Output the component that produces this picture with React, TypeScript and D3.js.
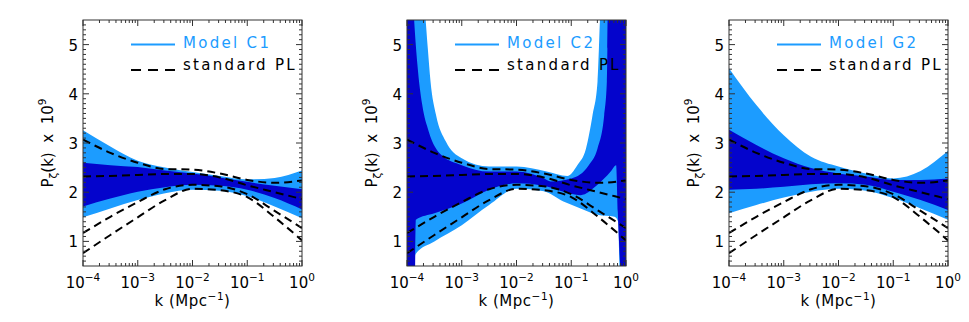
import React from 'react';
import * as d3 from 'd3';

type Pt = [number, number];

const WIDTH = 969;
const HEIGHT = 322;
const PANEL_LEFT = [83, 407, 729];
const PLOT_W = 219;
const PLOT_TOP = 20;
const PLOT_BOTTOM = 266;

const LIGHT = '#1C9CFF';
const DARK = '#0404CC';
const FONT = 'DejaVu Sans, Verdana, sans-serif';

// k grid used by the smooth curves
const K_GRID = [1e-4, 3.16e-4, 1e-3, 3.16e-3, 1e-2, 3.16e-2, 1e-1, 3.16e-1, 1];

// standard power law: 4 dashed curves, same in every panel
const PL_1 = [3.07, 2.8, 2.6, 2.47, 2.46, 2.38, 2.25, 2.19, 2.24];
const PL_2 = [2.32, 2.33, 2.35, 2.37, 2.37, 2.3, 2.14, 2.0, 1.86];
const PL_3 = [1.17, 1.5, 1.8, 2.06, 2.15, 2.12, 1.96, 1.62, 1.27];
const PL_4 = [0.76, 1.13, 1.49, 1.84, 2.07, 2.04, 1.9, 1.49, 1.02];

// Model C1 bands (95% light, 68% dark)
const C1_HI95 = [3.26, 2.93, 2.64, 2.5, 2.41, 2.33, 2.26, 2.29, 2.44];
const C1_HI68 = [2.6, 2.55, 2.51, 2.44, 2.38, 2.3, 2.21, 2.13, 2.06];
const C1_LO68 = [1.71, 1.87, 2.01, 2.1, 2.15, 2.13, 2.05, 1.88, 1.65];
const C1_LO95 = [1.49, 1.67, 1.84, 1.98, 2.05, 2.03, 1.92, 1.71, 1.47];

// Model G2 bands
const G2_HI95 = [4.52, 3.77, 3.16, 2.72, 2.52, 2.38, 2.28, 2.43, 2.84];
const G2_HI68 = [3.27, 2.96, 2.69, 2.49, 2.38, 2.32, 2.25, 2.25, 2.28];
const G2_LO68 = [2.05, 2.07, 2.11, 2.16, 2.18, 2.15, 2.01, 1.84, 1.64];
const G2_LO95 = [1.57, 1.74, 1.89, 2.01, 2.07, 2.03, 1.88, 1.67, 1.44];

// Model C2 bands, read as [k, P] pairs (they run off the plot)
const C2_HI95: Pt[] = [
  [1e-4, 9], [1.6e-4, 7], [2.19e-4, 5.5], [2.4e-4, 4.92], [2.69e-4, 4.25], [3.39e-4, 3.57],
  [5.13e-4, 3.03], [1e-3, 2.69], [3.16e-3, 2.52], [1e-2, 2.52], [3.55e-2, 2.42], [8.5e-2, 2.33],
  [0.129, 2.55], [0.186, 2.89], [0.245, 3.57], [0.302, 4.25], [0.32, 4.92], [0.335, 5.5],
  [0.5, 7], [1, 9],
];
const C2_HI68: Pt[] = [
  [1e-4, 9], [1.35e-4, 5.5], [1.55e-4, 4.59], [1.9e-4, 3.77], [2.5e-4, 3.23], [4.2e-4, 2.76],
  [1e-3, 2.55], [3.16e-3, 2.42], [1e-2, 2.42], [3.16e-2, 2.28], [0.042, 2.22], [0.1, 2.28],
  [0.209, 2.55], [0.302, 2.89], [0.4, 3.57], [0.447, 4.25], [0.457, 4.92], [0.462, 5.5], [1, 9],
];
const C2_LO68: Pt[] = [
  [1e-4, 0], [1.38e-4, 0], [1.45e-4, 1.44], [3.16e-4, 1.57], [1e-3, 1.77], [3.16e-3, 2.05],
  [1e-2, 2.18], [3.16e-2, 2.13], [7.2e-2, 2.01], [0.148, 1.94], [0.302, 2.15], [0.525, 2.42],
  [0.66, 2.55], [0.708, 1.6], [0.794, 0.4], [0.87, 0], [1, 0],
];
const C2_LO95: Pt[] = [
  [1e-4, 0], [1.17e-4, 0.3], [1.45e-4, 0.75], [3.16e-4, 1.0], [1e-3, 1.33], [3.16e-3, 1.74],
  [1e-2, 2.07], [3.16e-2, 2.02], [7.2e-2, 1.81], [0.148, 1.67], [0.302, 1.54], [0.617, 1.5],
  [0.72, 1.4], [0.76, 0.5], [0.8, 0], [1, 0],
];

const MODEL_NAMES = ['Model C1', 'Model C2', 'Model G2'];
const X_TICKS = [1e-4, 1e-3, 1e-2, 1e-1, 1];
const X_TICK_EXP = ['\u22124', '\u22123', '\u22122', '\u22121', '0'];
const Y_TICKS = [1, 2, 3, 4, 5];

const onGrid = (vals: number[]): Pt[] => K_GRID.map((k, i) => [k, vals[i]]);

interface Bands { hi95: Pt[]; hi68: Pt[]; lo68: Pt[]; lo95: Pt[] }

const PANEL_BANDS: Bands[] = [
  { hi95: onGrid(C1_HI95), hi68: onGrid(C1_HI68), lo68: onGrid(C1_LO68), lo95: onGrid(C1_LO95) },
  { hi95: C2_HI95, hi68: C2_HI68, lo68: C2_LO68, lo95: C2_LO95 },
  { hi95: onGrid(G2_HI95), hi68: onGrid(G2_HI68), lo68: onGrid(G2_LO68), lo95: onGrid(G2_LO95) },
];
const PL_CURVES = [PL_1, PL_2, PL_3, PL_4].map(onGrid);

function Panel({ idx }: { idx: number }) {
  const x0 = PANEL_LEFT[idx];
  const bands = PANEL_BANDS[idx];
  const id = 'p' + idx;
  const x = d3.scaleLog().domain([1e-4, 1]).range([x0, x0 + PLOT_W]);
  const y = d3.scaleLinear().domain([0.5, 5.5]).range([PLOT_BOTTOM, PLOT_TOP]);

  // area from a curve down to below the plot, and from a curve up to above it;
  // the band is one clipped by the other
  const below = d3.area<Pt>().x(d => x(d[0])).y0(PLOT_BOTTOM + 30).y1(d => y(d[1])).curve(d3.curveMonotoneX);
  const above = d3.area<Pt>().x(d => x(d[0])).y0(PLOT_TOP - 30).y1(d => y(d[1])).curve(d3.curveMonotoneX);
  const line = d3.line<Pt>().x(d => x(d[0])).y(d => y(d[1])).curve(d3.curveMonotoneX);

  const xt = x.ticks();
  const isDecade = (t: number) => Math.abs(Math.log10(t) - Math.round(Math.log10(t))) < 1e-6;
  const yt = y.ticks(50).filter(t => t > 0.55 && t < 5.45);
  const isInt = (t: number) => Math.abs(t - Math.round(t)) < 1e-6;
  const cx = x0 + PLOT_W / 2;
  const axisCol = '#333';

  return (
    <g fontFamily={FONT}>
      <defs>
        <clipPath id={id + '-plot'}>
          <rect x={x0} y={PLOT_TOP} width={PLOT_W} height={PLOT_BOTTOM - PLOT_TOP} />
        </clipPath>
        <clipPath id={id + '-lo95'}><path d={above(bands.lo95) || ''} /></clipPath>
        <clipPath id={id + '-lo68'}><path d={above(bands.lo68) || ''} /></clipPath>
      </defs>
      <g clipPath={`url(#${id}-plot)`}>
        <path d={below(bands.hi95) || ''} fill={LIGHT} clipPath={`url(#${id}-lo95)`} />
        <path d={below(bands.hi68) || ''} fill={DARK} clipPath={`url(#${id}-lo68)`} />
        {PL_CURVES.map((c, i) => (
          <path key={i} d={line(c) || ''} fill="none" stroke="#000" strokeWidth={2} strokeDasharray="8,5" />
        ))}
      </g>
      <rect x={x0} y={PLOT_TOP} width={PLOT_W} height={PLOT_BOTTOM - PLOT_TOP} fill="none" stroke={axisCol} strokeWidth={1} />
      {xt.map((t, i) => {
        const len = isDecade(t) ? 6 : 3;
        return (
          <g key={'xt' + i} stroke={axisCol}>
            <line x1={x(t)} x2={x(t)} y1={PLOT_BOTTOM} y2={PLOT_BOTTOM - len} />
            <line x1={x(t)} x2={x(t)} y1={PLOT_TOP} y2={PLOT_TOP + len} />
          </g>
        );
      })}
      {yt.map((t, i) => {
        const len = isInt(t) ? 6 : 3;
        return (
          <g key={'yt' + i} stroke={axisCol}>
            <line x1={x0} x2={x0 + len} y1={y(t)} y2={y(t)} />
            <line x1={x0 + PLOT_W} x2={x0 + PLOT_W - len} y1={y(t)} y2={y(t)} />
          </g>
        );
      })}
      {X_TICKS.map((t, i) => (
        <text key={'xl' + i} x={x(t)} y={288} textAnchor="middle" fontSize={15}>
          10<tspan fontSize={10.5} dy={-7}>{X_TICK_EXP[i]}</tspan>
        </text>
      ))}
      {Y_TICKS.map((t, i) => (
        <text key={'yl' + i} x={x0 - 5} y={y(t) + 6} textAnchor="end" fontSize={15}>{t}</text>
      ))}
      <text x={cx} y={306} textAnchor="middle" fontSize={15} letterSpacing={0.5}>
        k (Mpc<tspan fontSize={10.5} dy={-6}>{'\u22121'}</tspan><tspan dy={6}>)</tspan>
      </text>
      <text transform={`translate(${x0 - 30},143) rotate(-90)`} textAnchor="middle" fontSize={15}
        style={{ whiteSpace: 'pre' }}>
        P<tspan fontSize={10.5} dy={4}>{'\u03B6'}</tspan><tspan dy={-4}>{'(k)  x  10'}</tspan>
        <tspan fontSize={10.5} dy={-7}>9</tspan>
      </text>
      <line x1={x0 + 48} x2={x0 + 92} y1={44.5} y2={44.5} stroke={LIGHT} strokeWidth={2} />
      <text x={x0 + 100} y={48} fontSize={15} fill={LIGHT} letterSpacing={2.3}>{MODEL_NAMES[idx]}</text>
      <line x1={x0 + 48} x2={x0 + 92} y1={70} y2={70} stroke="#000" strokeWidth={2} strokeDasharray="10,7" />
      <text x={x0 + 100} y={70} fontSize={15} fill="#000" letterSpacing={2.3}>standard PL</text>
    </g>
  );
}

export default function App() {
  return (
    <svg width={WIDTH} height={HEIGHT} style={{ position: 'absolute', left: 0, top: 0, background: '#fff' }}>
      {PANEL_LEFT.map((_, i) => <Panel key={i} idx={i} />)}
    </svg>
  );
}
